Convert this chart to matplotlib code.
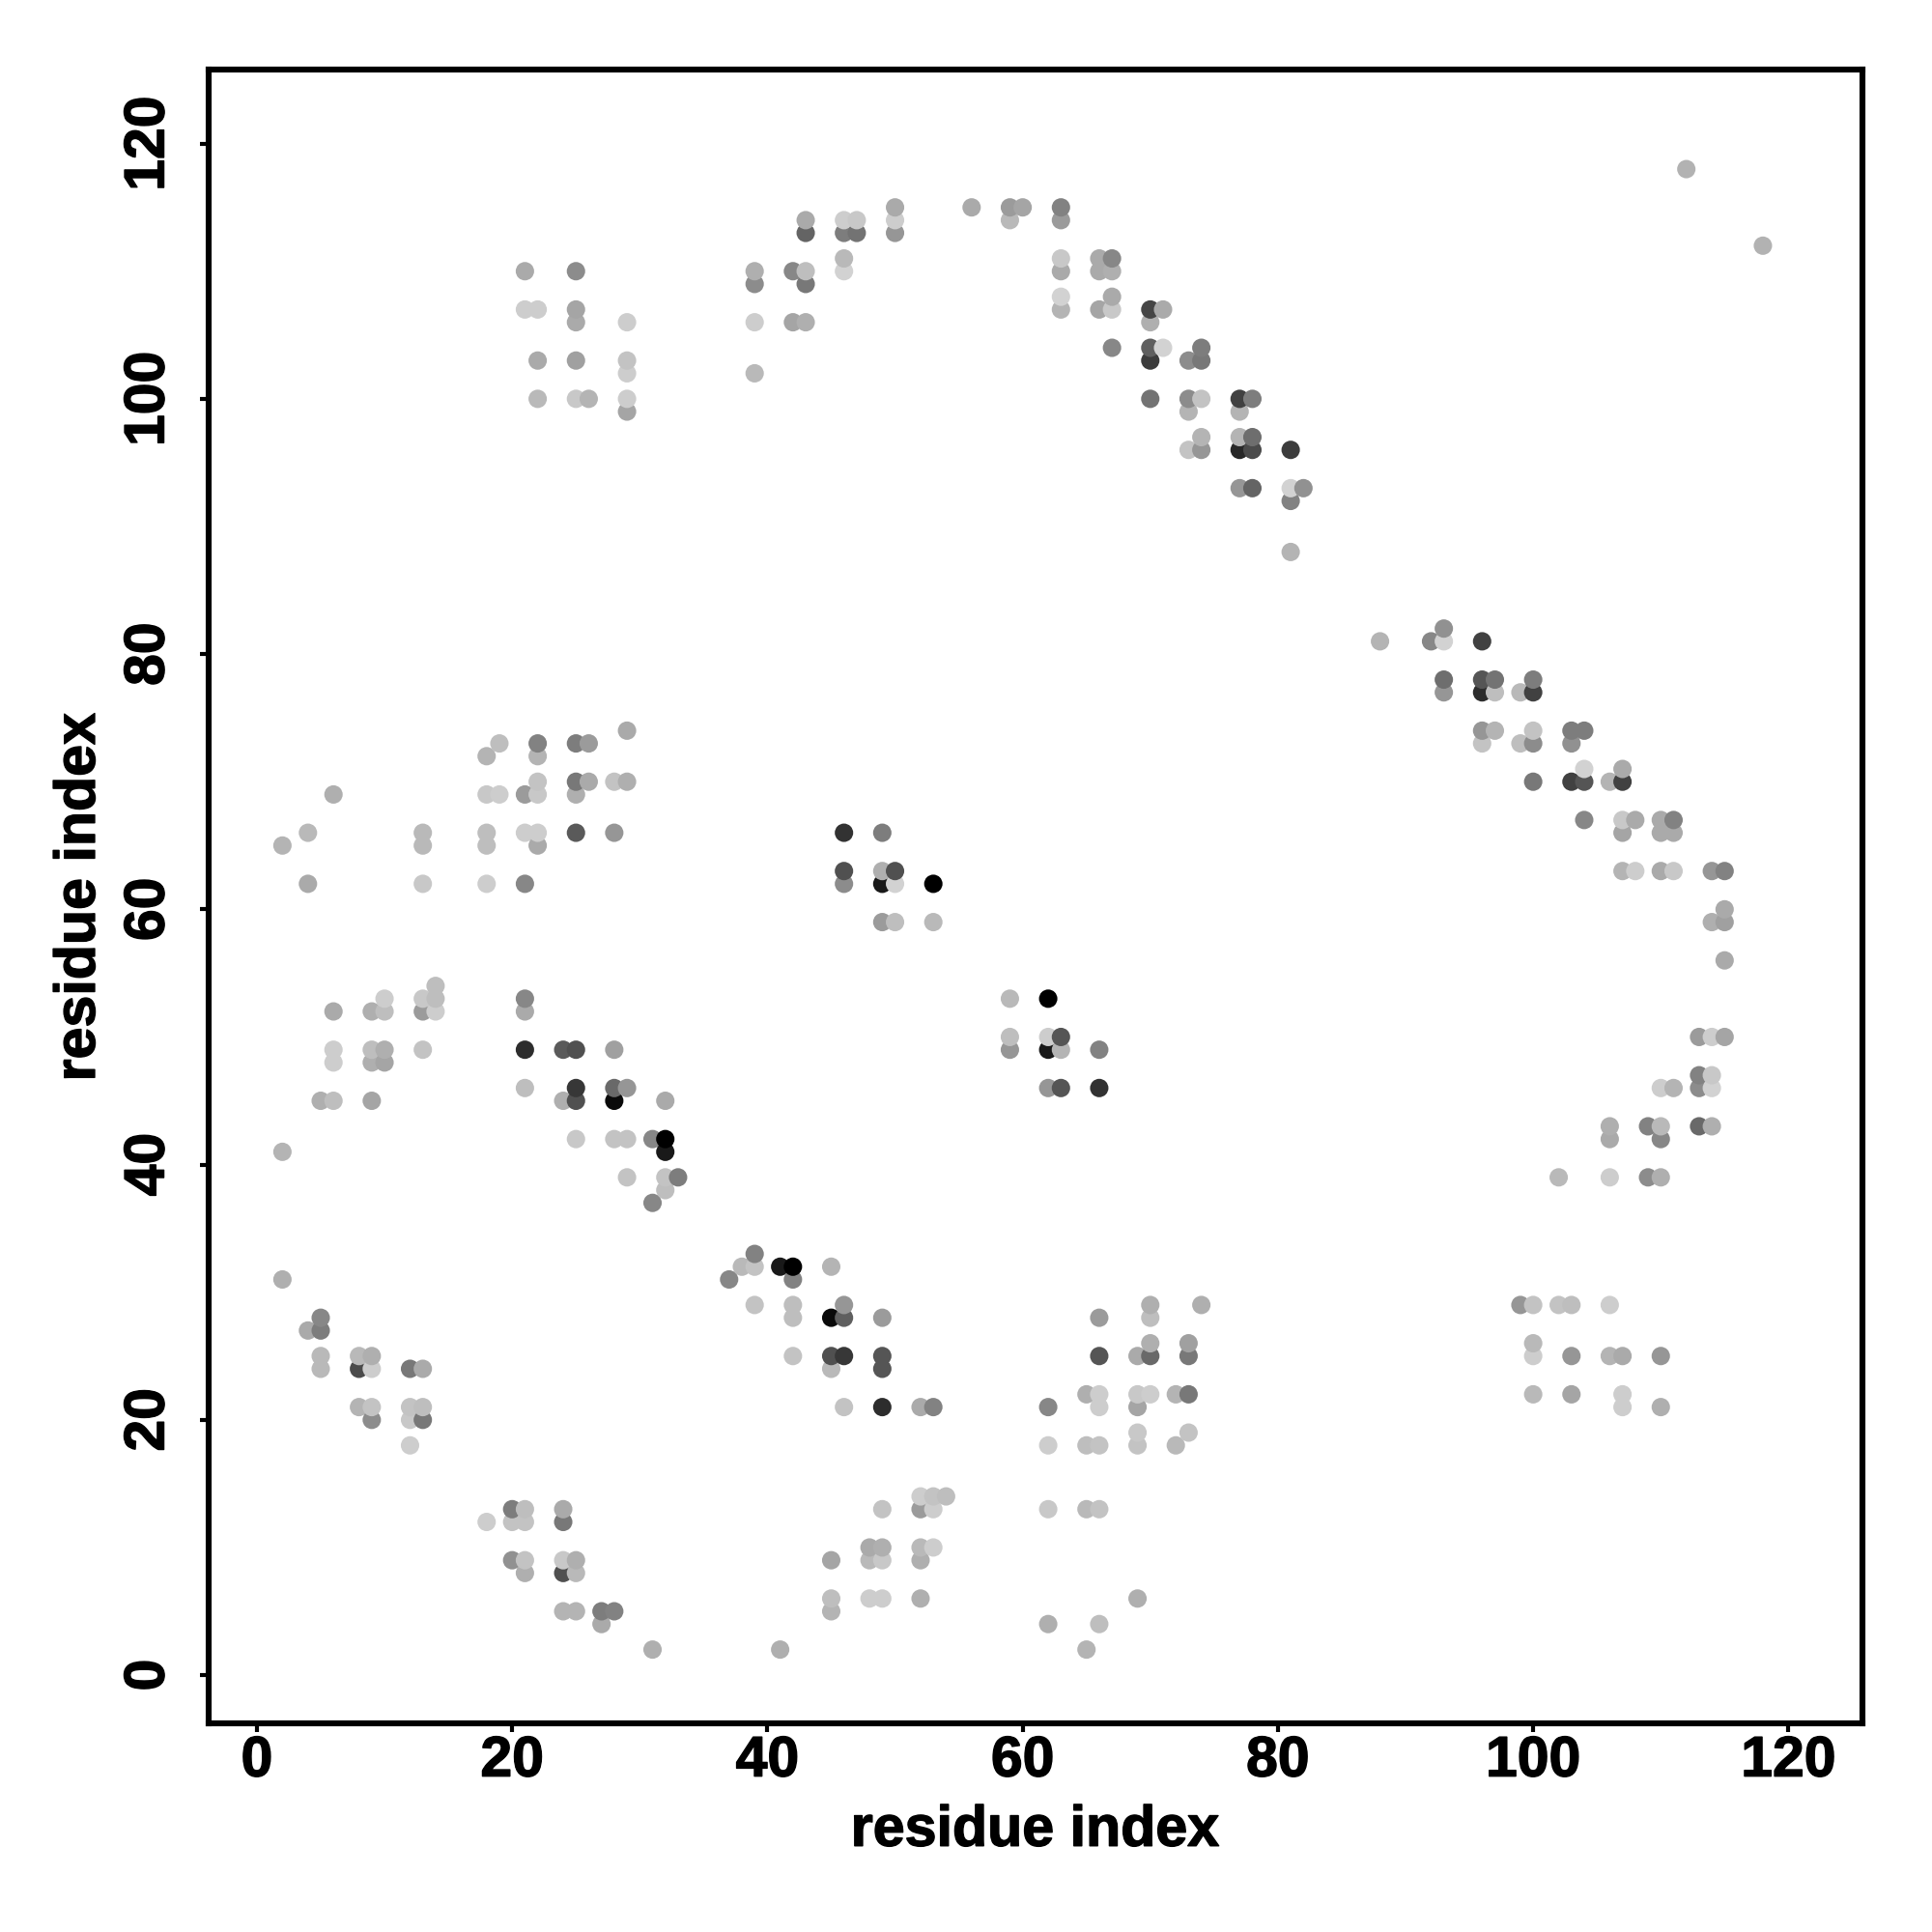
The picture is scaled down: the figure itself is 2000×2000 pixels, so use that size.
import numpy as np
import matplotlib
matplotlib.use('Agg')
import matplotlib.pyplot as plt
import matplotlib.patheffects as pe

plt.rcParams['font.family'] = ['Liberation Sans', 'DejaVu Sans']
plt.rcParams['font.weight'] = 'bold'

# contact map points, one line per cluster: residue i, residue j, grey level 0-255
res_i = [112, 118,
         21, 25, 21, 22, 25, 25, 29, 22, 25, 29, 29, 22, 25, 26, 29, 29,
         39, 39, 39, 39, 42, 43, 43, 42, 43, 43, 43, 46, 47, 46, 47, 46, 46, 50, 50, 50,
         56, 59, 60, 59, 63, 63, 63, 63, 63, 63, 66, 67, 66, 67, 67, 66, 67, 67,
         70, 71, 70, 70, 71, 70, 73, 74, 74, 70, 73, 74, 73, 74, 73, 74,
         77, 78, 77, 77, 78, 77, 78, 77, 78, 81, 81, 82, 81, 81,
         88, 92, 93, 93, 96, 93, 93, 96, 97, 96, 97, 99, 100, 100,
         96, 97, 96, 99, 100, 100, 103, 104, 103, 104, 107, 103, 104, 106, 107, 100,
         104, 107, 108, 110, 111, 107, 110, 111, 107, 108, 110, 111, 114, 115, 115, 114, 115, 115,
         113, 114, 115, 113, 114, 113, 114, 110, 111, 113, 114, 106, 109, 110, 106, 110, 102, 106, 109, 110,
         46, 49, 46, 49, 50, 46, 49, 50, 53, 49, 50, 53,
         59, 62, 59, 62, 63, 59, 62, 63, 66, 62, 63, 66,
         2, 4, 6, 4, 13, 13, 13, 18, 19, 18, 19, 18, 18, 18,
         21, 22, 22, 22, 22, 21, 22, 22, 21, 25, 26, 25, 26, 25, 25, 28, 29, 29, 28,
         6, 6, 6, 5, 6, 9, 10, 10, 9, 10, 9, 10, 9, 13, 14, 14, 13, 14, 13,
         2, 21, 21, 21, 24, 25, 28, 21, 25, 28, 29, 24, 25, 28, 32,
         25, 28, 29, 31, 32, 32, 29, 32, 33, 32, 31,
         37, 38, 39, 39, 41, 42, 42, 45, 39, 42, 42, 46, 45, 46, 49,
         42, 45, 46, 45, 49, 49, 46, 49, 52, 53,
         2, 4, 5, 5, 5, 5, 8, 9, 8, 9, 8, 9, 9, 12, 13, 12, 13, 12, 13, 12,
         18, 20, 21, 20, 21, 24, 24, 20, 21, 21, 24, 25, 24, 25, 24, 25, 27, 28, 27, 31, 41,
         45, 45, 45, 48, 49, 48, 49, 48, 49, 49, 52, 53, 54, 52, 53, 52, 53, 52, 52,
         62, 65, 66, 66, 62, 65, 66, 62, 65, 66, 62, 66, 65, 69,
         66, 66, 69, 70, 70, 70, 70, 74, 73, 73, 69, 70, 72, 73, 69, 69, 69, 72, 73,
         99, 100, 102, 103, 106, 100, 100, 103, 106, 107, 110, 100, 103, 107, 107, 110]

res_j = [118, 112,
         110, 110, 107, 107, 107, 106, 106, 103, 103, 103, 102, 100, 100, 100, 100, 99,
         110, 109, 106, 102, 110, 110, 109, 106, 106, 114, 113, 114, 114, 113, 113, 111, 110, 115, 114, 113,
         115, 115, 115, 114, 115, 114, 111, 110, 108, 107, 111, 111, 110, 110, 108, 107, 107, 104,
         107, 107, 106, 104, 104, 103, 103, 104, 103, 100, 100, 100, 99, 97, 96, 96,
         100, 100, 99, 97, 97, 96, 96, 93, 93, 96, 93, 93, 92, 88,
         81, 81, 81, 82, 81, 78, 77, 78, 78, 77, 77, 77, 78, 77,
         74, 74, 73, 73, 74, 73, 74, 74, 73, 71, 71, 70, 70, 70, 70, 70,
         67, 67, 67, 67, 67, 66, 66, 66, 63, 63, 63, 63, 63, 63, 60, 59, 59, 56,
         50, 50, 50, 47, 47, 46, 46, 46, 46, 43, 43, 43, 43, 43, 42, 42, 39, 39, 39, 39,
         66, 66, 63, 63, 63, 62, 62, 62, 62, 59, 59, 59,
         53, 53, 50, 50, 50, 49, 49, 49, 49, 46, 46, 46,
         65, 66, 69, 62, 66, 65, 62, 72, 73, 69, 69, 66, 65, 62,
         69, 73, 72, 70, 69, 66, 66, 65, 62, 73, 73, 70, 70, 69, 66, 70, 70, 74, 66,
         52, 49, 48, 45, 45, 52, 53, 52, 49, 49, 48, 48, 45, 53, 54, 53, 52, 52, 49,
         41, 53, 52, 49, 49, 49, 49, 46, 46, 46, 46, 45, 45, 45, 45,
         42, 42, 42, 42, 42, 41, 39, 39, 39, 38, 37,
         31, 32, 32, 33, 32, 32, 31, 32, 29, 29, 28, 29, 28, 28, 28,
         25, 25, 25, 24, 25, 24, 21, 21, 21, 21,
         31, 27, 28, 27, 25, 24, 25, 25, 24, 24, 21, 21, 20, 24, 24, 21, 21, 20, 20, 18,
         12, 13, 13, 12, 12, 13, 12, 9, 9, 8, 9, 9, 8, 8, 5, 5, 5, 5, 4, 2, 2,
         9, 6, 5, 10, 10, 9, 9, 6, 6, 13, 14, 14, 14, 13, 13, 10, 10, 9, 6,
         21, 22, 22, 21, 18, 18, 18, 13, 13, 13, 4, 4, 2, 6,
         28, 25, 25, 25, 29, 28, 26, 29, 26, 25, 22, 22, 22, 22, 21, 19, 18, 18, 19,
         29, 29, 29, 29, 29, 26, 25, 25, 25, 25, 25, 22, 22, 22, 21, 21]

grey = [178, 178,
        170, 140, 205, 205, 165, 170, 205, 170, 160, 195, 205, 185, 200, 180, 205, 165,
        175, 140, 205, 185, 135, 190, 120, 165, 175, 170, 100, 205, 200, 125, 115, 185, 210, 170, 205, 150,
        170, 155, 165, 185, 130, 155, 200, 170, 210, 180, 170, 135, 170, 175, 170, 165, 200, 135,
        70, 170, 175, 95, 210, 60, 140, 125, 120, 115, 140, 195, 180, 180, 195, 150,
        65, 125, 180, 180, 110, 40, 75, 150, 100, 60, 210, 145, 130, 180,
        180, 135, 210, 145, 65, 110, 150, 85, 115, 45, 190, 185, 125, 65,
        150, 180, 195, 190, 195, 140, 125, 125, 145, 210, 170, 65, 85, 180, 65, 120,
        135, 200, 170, 170, 130, 165, 170, 170, 180, 205, 170, 200, 150, 130, 170, 175, 160, 170,
        155, 205, 165, 130, 200, 140, 210, 205, 180, 105, 175, 175, 130, 185, 170, 135, 185, 205, 140, 175,
        50, 125, 80, 175, 80, 140, 25, 210, 0, 155, 190, 185,
        185, 0, 190, 205, 85, 150, 25, 180, 130, 150, 85, 50,
        180, 185, 175, 170, 185, 185, 200, 180, 190, 200, 205, 190, 190, 205,
        155, 130, 180, 195, 200, 205, 205, 170, 135, 125, 155, 120, 170, 175, 90, 195, 175, 170, 150,
        170, 205, 205, 175, 190, 175, 205, 190, 190, 175, 175, 165, 165, 200, 190, 190, 155, 205, 195,
        180, 135, 170, 45, 90, 80, 160, 190, 55, 105, 150, 175, 80, 10, 170,
        200, 195, 195, 135, 0, 25, 195, 195, 125, 190, 135,
        135, 185, 195, 130, 25, 0, 130, 180, 195, 190, 190, 150, 10, 95, 155,
        195, 80, 55, 185, 85, 85, 195, 45, 170, 130,
        175, 170, 135, 125, 185, 185, 185, 175, 75, 205, 180, 195, 140, 120, 170, 195, 190, 200, 120, 205,
        205, 125, 190, 195, 195, 170, 120, 145, 195, 175, 200, 175, 80, 185, 180, 180, 125, 130, 170, 175, 175,
        165, 190, 180, 170, 175, 185, 200, 205, 205, 195, 205, 195, 190, 155, 205, 185, 205, 175, 175,
        135, 175, 205, 205, 205, 190, 195, 200, 185, 195, 175, 190, 180, 175,
        155, 85, 170, 105, 175, 190, 175, 175, 160, 120, 200, 205, 180, 120, 165, 200, 195, 185, 195,
        150, 195, 195, 190, 205, 185, 205, 150, 180, 170, 150, 185, 165, 205, 205, 175]

x_ticks = [0, 20, 40, 60, 80, 100, 120]
y_ticks = [0, 20, 40, 60, 80, 100, 120]
axis_label = 'residue index'

res_i = np.array(res_i)
res_j = np.array(res_j)
grey = np.array(grey)

# points were plotted row by row, so later i and j sit on top
order = np.lexsort((res_j, res_i))

fig = plt.figure(figsize=(10, 10), dpi=200)
ax = fig.add_axes([0.108, 0.108, 0.856, 0.856])

ax.scatter(res_i[order], res_j[order], s=47,
           c=[str(g / 255) for g in grey[order]],
           linewidths=0, zorder=2)

ax.set_xlim(-3.78, 125.8)
ax.set_ylim(-3.78, 125.8)
ax.set_xticks(x_ticks)
ax.set_yticks(y_ticks)

for spine in ax.spines.values():
    spine.set_linewidth(2.2)
    spine.set_zorder(3)

ax.tick_params(axis='both', length=3.2, width=1.5, labelsize=21.2)
ax.tick_params(axis='x', pad=1)
ax.tick_params(axis='y', pad=9.2)
for t in ax.get_yticklabels():
    t.set_rotation(90)
    t.set_va('center')

ax.set_xlabel(axis_label, fontsize=21.3, fontweight='bold', va='center')
ax.set_ylabel(axis_label, fontsize=21.3, fontweight='bold', va='center')
ax.xaxis.set_label_coords(0.4996, -0.065)
ax.yaxis.set_label_coords(-0.078, 0.4995)

# the reference type is a little heavier than Liberation bold
heavier = [pe.withStroke(linewidth=0.5, foreground='black')]
for t in ax.get_xticklabels() + ax.get_yticklabels():
    t.set_path_effects(heavier)
ax.xaxis.label.set_path_effects(heavier)
ax.yaxis.label.set_path_effects(heavier)

fig.savefig('out.png', dpi=200, facecolor='white')
